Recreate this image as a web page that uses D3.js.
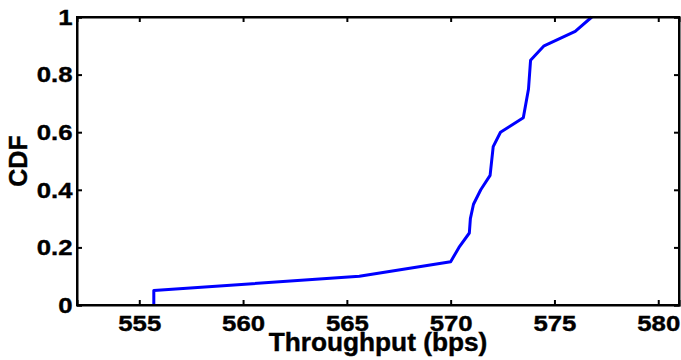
<!DOCTYPE html>
<html>
<head>
<meta charset="utf-8">
<script src="https://cdn.jsdelivr.net/npm/d3@7"></script>
<style>
  html, body { margin: 0; padding: 0; background: #fff; }
  svg text { font-family: "Liberation Sans", Arial, Helvetica, sans-serif; font-weight: bold; fill: #000; }
</style>
</head>
<body>
<svg id="chart" width="681" height="360"></svg>
<script>
// Empirical CDF of measured throughput (bps)
const throughput = [555.7, 555.7, 565.6, 570.0, 570.4, 570.9, 570.95, 571.1, 571.45, 571.9, 572.05, 572.4, 573.5, 573.75, 573.85, 574.5, 576.0, 576.8];
const cdf        = [0.0,   0.05,  0.10,  0.15,  0.20,  0.25,  0.30,   0.35,  0.40,   0.45,  0.55,   0.60,  0.65,  0.75,   0.85,  0.90,  0.95,  1.0];

const xTicks = [555, 560, 565, 570, 575, 580];
const yTicks = [0, 0.2, 0.4, 0.6, 0.8, 1];
const yTickLabels = ["0", "0.2", "0.4", "0.6", "0.8", "1"];

const margin = { left: 77, right: 2, top: 17, bottom: 55 };
const W = 681, H = 360;

const svg = d3.select("#chart");
const x = d3.scaleLinear().domain([552, 581]).range([margin.left, W - margin.right]);
const y = d3.scaleLinear().domain([0, 1]).range([H - margin.bottom, margin.top]);

const tickLen = 5;
const fontTick = 23;
const widen = 1.12; // heavier, wider numerals

// data line
const line = d3.line().x((d, i) => x(throughput[i])).y((d, i) => y(cdf[i]));
svg.append("path")
  .datum(cdf)
  .attr("d", line)
  .attr("fill", "none")
  .attr("stroke", "#0000ff")
  .attr("stroke-width", 3)
  .attr("stroke-linejoin", "round");

// bottom axis (ticks point inward)
const xAxis = svg.append("g").attr("transform", `translate(0,${y(0)})`)
  .call(d3.axisBottom(x).tickValues(xTicks).tickSize(-tickLen).tickPadding(10).tickFormat(d3.format("d")));
// top axis ticks
const xAxisTop = svg.append("g").attr("transform", `translate(0,${y(1)})`)
  .call(d3.axisTop(x).tickValues(xTicks).tickSize(-tickLen).tickFormat(""));
// left axis
const yAxis = svg.append("g").attr("transform", `translate(${x(552)},0)`)
  .call(d3.axisLeft(y).tickValues(yTicks).tickSize(-tickLen).tickPadding(4)
    .tickFormat((d, i) => yTickLabels[i]));
// right axis ticks
const yAxisRight = svg.append("g").attr("transform", `translate(${x(581)},0)`)
  .call(d3.axisRight(y).tickValues(yTicks).tickSize(-tickLen).tickFormat(""));

[xAxis, xAxisTop, yAxis, yAxisRight].forEach(g => {
  g.select(".domain").attr("stroke", "#000").attr("stroke-width", 2);
  g.selectAll(".tick line").attr("stroke", "#000").attr("stroke-width", 2);
  g.selectAll(".tick text")
    .style("font-size", fontTick + "px")
    .attr("font-family", null)
    .attr("stroke", "#000").attr("stroke-width", 0.4)
    .attr("transform", `scale(${widen},1)`);
});
xAxis.selectAll(".tick text").attr("dy", "0.71em");

// closing box
svg.append("rect")
  .attr("x", x(552)).attr("y", y(1))
  .attr("width", x(581) - x(552)).attr("height", y(0) - y(1))
  .attr("fill", "none").attr("stroke", "#000").attr("stroke-width", 2);

// axis titles
svg.append("text")
  .attr("transform", `translate(${(x(552) + x(581)) / 2},351) scale(1.05,1)`)
  .attr("text-anchor", "middle")
  .attr("stroke", "#000").attr("stroke-width", 0.4)
  .style("font-size", "25px")
  .text("Throughput (bps)");

svg.append("text")
  .attr("transform", `translate(27,${(y(0) + y(1)) / 2}) rotate(-90)`)
  .attr("text-anchor", "middle")
  .attr("stroke", "#000").attr("stroke-width", 0.4)
  .style("font-size", "25px")
  .text("CDF");
</script>
</body>
</html>
